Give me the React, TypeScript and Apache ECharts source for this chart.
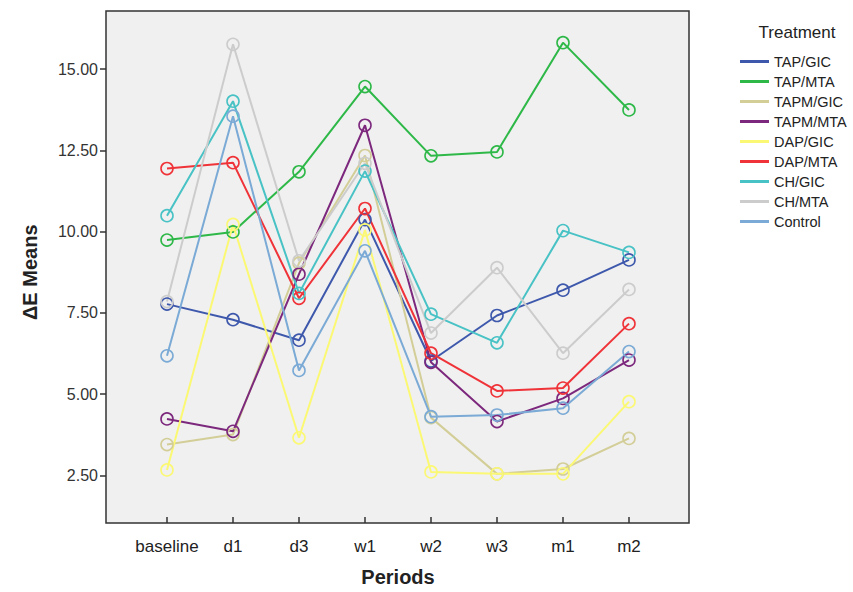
import React, { useEffect, useRef } from "react";
import * as echarts from "echarts";

const periods = ["baseline", "d1", "d3", "w1", "w2", "w3", "m1", "m2"];
const treatments = ["TAP/GIC", "TAP/MTA", "TAPM/GIC", "TAPM/MTA", "DAP/GIC", "DAP/MTA", "CH/GIC", "CH/MTA", "Control"];
const colors = ["#3e58ac", "#2eb848", "#d3ce97", "#7c287d", "#fbf873", "#ef3338", "#48c2c5", "#cccccc", "#7aaad5"];

const tapGic = [7.77, 7.29, 6.66, 10.37, 6.02, 7.42, 8.2, 9.13];
const tapMta = [9.74, 9.99, 11.84, 14.46, 12.33, 12.45, 15.81, 13.74];
const tapmGic = [3.45, 3.76, 9.03, 12.34, 4.28, 2.55, 2.7, 3.64];
const tapmMta = [4.24, 3.86, 8.69, 13.27, 5.98, 4.16, 4.87, 6.05];
const dapGic = [2.67, 10.22, 3.66, 10.05, 2.61, 2.55, 2.55, 4.77];
const dapMta = [11.94, 12.12, 7.95, 10.71, 6.26, 5.1, 5.19, 7.17];
const chGic = [10.49, 14.01, 8.1, 11.86, 7.46, 6.58, 10.03, 9.36];
const chMta = [7.85, 15.76, 9.1, 12.1, 6.88, 8.89, 6.26, 8.22];
const control = [6.18, 13.55, 5.73, 9.41, 4.31, 4.36, 4.57, 6.31];

const seriesValues = [tapGic, tapMta, tapmGic, tapmMta, dapGic, dapMta, chGic, chMta, control];
const yTicks = { min: 2.5, max: 15, interval: 2.5 };

const FONT = "'Liberation Sans', Arial, sans-serif";

export default function App() {
  const ref = useRef<HTMLDivElement>(null);
  useEffect(() => {
    if (!ref.current) return;
    const chart = echarts.init(ref.current, undefined, { renderer: "svg" });
    chart.setOption({
      animation: false,
      backgroundColor: "#ffffff",
      textStyle: { fontFamily: FONT },
      graphic: [
        {
          type: "rect",
          z: -10,
          shape: { x: 106, y: 11, width: 583, height: 512 },
          style: { fill: "#f0f0f0", stroke: "#333333", lineWidth: 1.5 },
        },
        {
          type: "text",
          x: 797,
          y: 32,
          style: {
            text: "Treatment",
            fontFamily: FONT,
            fontSize: 17,
            fill: "#222222",
            textAlign: "center",
            textVerticalAlign: "middle",
          },
        },
      ],
      legend: {
        orient: "vertical",
        left: 740,
        top: 54,
        padding: 0,
        icon: "rect",
        itemWidth: 29,
        itemHeight: 3,
        itemGap: 5,
        textStyle: { fontFamily: FONT, fontSize: 14.5, lineHeight: 14, color: "#222222" },
        data: treatments.map((n, i) => ({ name: n, itemStyle: { color: colors[i], borderWidth: 0 } })),
      },
      grid: { left: 167, right: 224, top: 69, bottom: 110.5, containLabel: false },
      xAxis: {
        type: "category",
        data: periods,
        boundaryGap: false,
        offset: 41.5,
        axisLine: { show: false },
        axisTick: { show: true, length: 6, lineStyle: { color: "#333333", width: 1.5 }, interval: 0 },
        axisLabel: { interval: 0, margin: 21, fontSize: 17, color: "#222222", fontFamily: FONT },
        splitLine: { show: false },
        name: "Periods",
        nameLocation: "middle",
        nameGap: 50,
        nameTextStyle: { fontSize: 20, fontWeight: "bold", color: "#222222", fontFamily: FONT },
      },
      yAxis: {
        type: "value",
        min: yTicks.min,
        max: yTicks.max,
        interval: yTicks.interval,
        offset: 61,
        axisLine: { show: false },
        axisTick: { show: true, length: 6, lineStyle: { color: "#333333", width: 1.5 } },
        axisLabel: {
          margin: 8,
          fontSize: 16,
          color: "#333333",
          fontFamily: FONT,
          formatter: (v: number) => v.toFixed(2),
        },
        splitLine: { show: false },
        name: "ΔE Means",
        nameLocation: "middle",
        nameGap: 66,
        nameTextStyle: { fontSize: 20, fontWeight: "bold", color: "#222222", fontFamily: FONT },
      },
      series: treatments.map((n, i) => ({
        name: n,
        type: "line",
        data: seriesValues[i],
        clip: false,
        symbol: "circle",
        symbolSize: 12,
        showAllSymbol: true,
        lineStyle: { color: colors[i], width: 2 },
        itemStyle: { color: "rgba(0,0,0,0)", borderColor: colors[i], borderWidth: 1.6 },
        emphasis: { disabled: true },
      })),
    });
    return () => chart.dispose();
  }, []);
  return (
    <div
      ref={ref}
      style={{ position: "fixed", left: 0, top: 0, width: 853, height: 592 }}
    />
  );
}
